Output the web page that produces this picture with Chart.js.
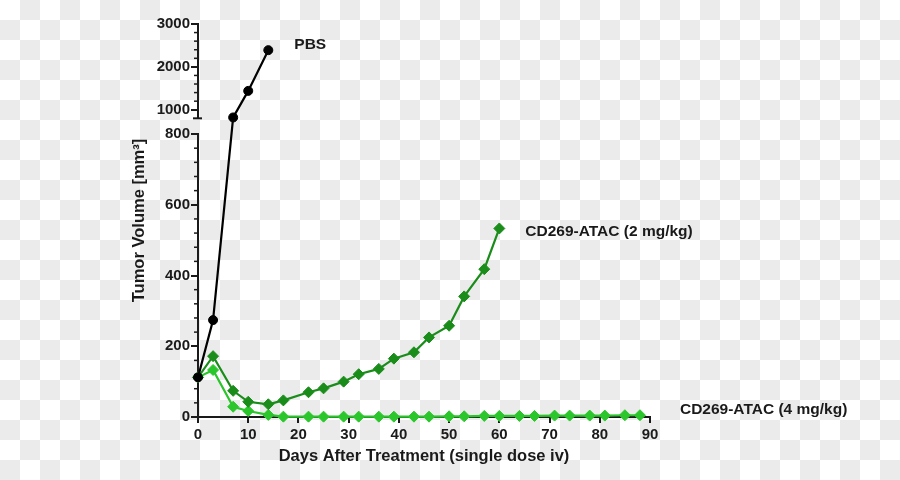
<!DOCTYPE html>
<html>
<head>
<meta charset="utf-8">
<title>Tumor volume</title>
<script src="https://cdn.jsdelivr.net/npm/chart.js@4.4.1/dist/chart.umd.min.js"></script>
<style>
    html, body { margin: 0; padding: 0; }
    body {
        width: 900px;
        height: 480px;
        background: repeating-conic-gradient(#ebebeb 0 25%, #ffffff 0 50%) 0 0 / 40px 40px;
    }
    canvas { display: block; }
</style>
</head>
<body>
<canvas id="tumorChart" width="900" height="480"></canvas>
<script>
// data
const pbsDays = [0, 3, 7, 10, 14];
const pbsVolume = [112, 274, 820, 1440, 2390];

const lowDoseDays = [0, 3, 7, 10, 14, 17, 22, 25, 29, 32, 36, 39, 43, 46, 50, 53, 57, 60];
const lowDoseVolume = [112, 172, 74, 43, 36, 47, 70, 81, 100, 121, 136, 165, 183, 225, 258, 341, 418, 533];

const highDoseDays = [0, 3, 7, 10, 14, 17, 22, 25, 29, 32, 36, 39, 43, 46, 50, 53, 57, 60, 64, 67, 71, 74, 78, 81, 85, 88];
const highDoseVolume = [112, 133, 29, 17, 6, 1, 1, 1, 1, 1, 1, 1, 1, 1, 2, 2, 3, 3, 3, 3, 4, 4, 4, 4, 5, 5];

const seriesNames = ['PBS', 'CD269-ATAC (2 mg/kg)', 'CD269-ATAC (4 mg/kg)'];
const seriesColors = ['#000000', '#1a8c1a', '#2bc62b'];

const yTicks = [0, 200, 400, 600, 800, 1000, 2000, 3000];
const yTickLabels = ['0', '200', '400', '600', '800', '1000', '2000', '3000'];
const xTicks = [0, 10, 20, 30, 40, 50, 60, 70, 80, 90];

// axis break: lower part 0-800, upper part 800-3000
const breakValue = 800;
const lowerShare = 0.72;
const gapShare = 0.04;
const lowerMinorStep = 40;
const upperMinorStep = 200;

const axisColor = '#1a1a1a';
const fontFamily = "'Liberation Sans', Arial, sans-serif";

class BrokenLinearScale extends Chart.LinearScale {
    getPixelForValue(value) {
        const h = this.bottom - this.top;
        const lowH = h * lowerShare;
        const gapH = h * gapShare;
        if (value <= breakValue) {
            return this.bottom - (value - this.min) / (breakValue - this.min) * lowH;
        }
        return this.bottom - lowH - gapH - (value - breakValue) / (this.max - breakValue) * (h - lowH - gapH);
    }
    getValueForPixel(pixel) {
        const h = this.bottom - this.top;
        const lowH = h * lowerShare;
        const gapH = h * gapShare;
        const d = this.bottom - pixel;
        if (d <= lowH) return this.min + d / lowH * (breakValue - this.min);
        return breakValue + (d - lowH - gapH) / (h - lowH - gapH) * (this.max - breakValue);
    }
}
BrokenLinearScale.id = 'brokenLinear';
BrokenLinearScale.defaults = Chart.LinearScale.defaults;
Chart.register(BrokenLinearScale);

function line(ctx, x1, y1, x2, y2) {
    ctx.beginPath();
    ctx.moveTo(x1, y1);
    ctx.lineTo(x2, y2);
    ctx.stroke();
}

// draws the split y axis and its minor ticks
const brokenAxisPlugin = {
    id: 'brokenAxis',
    beforeDatasetsDraw(chart) {
        const { ctx, scales: { x, y } } = chart;
        const ax = x.getPixelForValue(0);
        const capY = y.bottom - (y.bottom - y.top) * (lowerShare + gapShare);
        ctx.save();
        ctx.strokeStyle = axisColor;
        ctx.lineWidth = 2;
        line(ctx, ax, y.getPixelForValue(0) + 1, ax, y.getPixelForValue(breakValue) - 1);
        line(ctx, ax, capY, ax, y.getPixelForValue(y.max) - 1);
        line(ctx, ax - 5, capY, ax + 4, capY);

        ctx.lineWidth = 1.5;
        for (let v = lowerMinorStep; v < breakValue; v += lowerMinorStep) {
            if (yTicks.includes(v)) continue;
            const py = y.getPixelForValue(v);
            line(ctx, ax - 4, py, ax, py);
        }
        for (let v = 1000 + upperMinorStep; v < y.max; v += upperMinorStep) {
            if (yTicks.includes(v)) continue;
            const py = y.getPixelForValue(v);
            line(ctx, ax - 4, py, ax, py);
        }
        ctx.restore();
    }
};

// series names next to the last point of each line
const labelOffsets = [[26, -5], [26, 3], [40, -6]];
const endLabelPlugin = {
    id: 'endLabels',
    afterDatasetsDraw(chart) {
        const { ctx } = chart;
        ctx.save();
        ctx.font = 'bold 15.5px ' + fontFamily;
        ctx.fillStyle = axisColor;
        ctx.textBaseline = 'middle';
        chart.data.datasets.forEach((ds, i) => {
            const meta = chart.getDatasetMeta(i);
            const last = meta.data[meta.data.length - 1];
            ctx.fillText(seriesNames[i], last.x + labelOffsets[i][0], last.y + labelOffsets[i][1]);
        });
        ctx.restore();
    }
};

function toPoints(days, values) {
    return days.map((d, i) => ({ x: d, y: values[i] }));
}

const datasets = [
    {
        data: toPoints(pbsDays, pbsVolume),
        borderColor: seriesColors[0],
        backgroundColor: seriesColors[0],
        pointStyle: 'circle',
        pointRadius: 4.5
    },
    {
        data: toPoints(lowDoseDays, lowDoseVolume),
        borderColor: seriesColors[1],
        backgroundColor: seriesColors[1],
        pointStyle: 'rectRot',
        pointRadius: 5.5
    },
    {
        data: toPoints(highDoseDays, highDoseVolume),
        borderColor: seriesColors[2],
        backgroundColor: seriesColors[2],
        pointStyle: 'rectRot',
        pointRadius: 5.5
    }
].map(ds => Object.assign(ds, { borderWidth: 2.2, pointBorderWidth: 1, tension: 0, clip: false }));

new Chart(document.getElementById('tumorChart'), {
    type: 'line',
    data: { datasets: datasets },
    plugins: [brokenAxisPlugin, endLabelPlugin],
    options: {
        responsive: false,
        animation: false,
        events: [],
        layout: { padding: { left: 128, right: 250, top: 24, bottom: 13 } },
        plugins: {
            legend: { display: false },
            tooltip: { enabled: false }
        },
        scales: {
            x: {
                type: 'linear',
                min: 0,
                max: 90,
                afterFit(scale) { scale.height = 50; },
                afterBuildTicks(scale) { scale.ticks = xTicks.map(v => ({ value: v })); },
                border: { display: true, color: axisColor, width: 2 },
                grid: { drawOnChartArea: false, drawTicks: true, tickLength: 6, color: axisColor, lineWidth: 2 },
                ticks: {
                    color: axisColor,
                    padding: 3,
                    autoSkip: false,
                    maxRotation: 0,
                    font: { family: fontFamily, size: 15, weight: 'bold' },
                    callback: v => String(v)
                },
                title: {
                    display: true,
                    text: 'Days After Treatment (single dose iv)',
                    color: axisColor,
                    padding: { top: 0, bottom: 1 },
                    font: { family: fontFamily, size: 16.5, weight: 'bold' }
                }
            },
            y: {
                type: 'brokenLinear',
                min: 0,
                max: 3000,
                afterFit(scale) { scale.width = 70; },
                afterBuildTicks(scale) { scale.ticks = yTicks.map(v => ({ value: v })); },
                border: { display: false },
                grid: { drawOnChartArea: false, drawTicks: true, tickLength: 7, color: axisColor, lineWidth: 2 },
                ticks: {
                    color: axisColor,
                    padding: 1,
                    autoSkip: false,
                    font: { family: fontFamily, size: 15, weight: 'bold' },
                    callback: (v, i) => yTickLabels[i]
                },
                title: {
                    display: true,
                    text: 'Tumor Volume [mm³]',
                    color: axisColor,
                    padding: { top: 2, bottom: 0 },
                    font: { family: fontFamily, size: 16.5, weight: 'bold' }
                }
            }
        }
    }
});
</script>
</body>
</html>
